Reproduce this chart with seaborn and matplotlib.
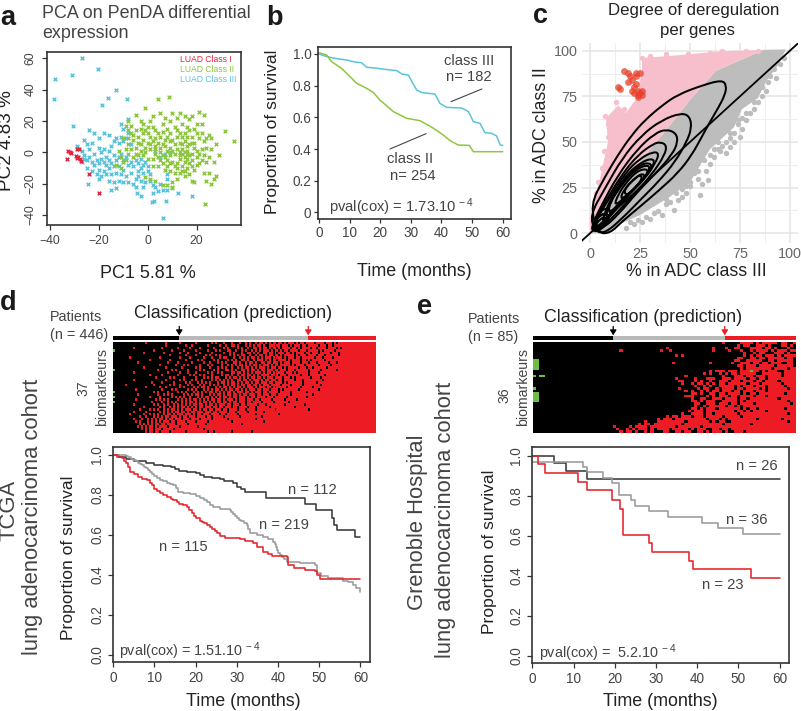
import matplotlib
matplotlib.use("Agg")
import matplotlib.pyplot as plt
from matplotlib.colors import ListedColormap
from matplotlib.path import Path
from matplotlib.patches import PathPatch
import numpy as np
import seaborn as sns

sns.set_theme(style="white")
plt.rcParams['font.family'] = ['Liberation Sans', 'DejaVu Sans']
plt.rcParams['mathtext.default'] = 'regular'
plt.rcParams['axes.unicode_minus'] = True

W, H = 801, 711
DARK, MID = "#222222", "#444444"
RED, GREEN, BLUE = "#e3263f", "#8dc63f", "#5bc4dc"

# ---------- panel a ----------
pca_red = [(-32.5,1),(-31.3,-.6),(-29,2.3),(-28,2.3),(-33,-4.5),(-29.4,-2.3),(-28.5,-2.8),(-27.7,-4.5),(-27.5,-5.5),(-24,-14),(-20,-25.7),(-31.8,0),(-28.8,-3.4)]
pca_green = [(-8,20),(-9,17),(-8,14),(-7,12),(-5,24),(-3,20),(-2,18),(-1,14),(-2,12),(1,20),(2,16),(3,14),(5,25),(7,22),(6,18),(8,15),(9,12),(10,25),(12,22),(13,25),(15,23),(14,18),(17,21),(18,23),(20,18),(21,26),(23,24),(22,18),(19,15),(17,14),(16,10),(13,12),(11,16),(10,8),(7,8),(5,10),(4,6),(3,9),(1,10),(0,6),(-2,8),(-4,6),(-6,8),(-8,5),(-10,9),(-9,2),(-7,2),(-5,3),(-3,1),(-1,3),(1,2),(3,2),(5,3),(7,4),(9,3),(11,5),(13,6),(15,7),(17,5),(19,6),(21,9),(23,7),(25,11),(26,9),(24,3),(26,2),(28,5),(29,-2),(27,-6),(25,-3),(23,-2),(22,-5),(20,-3),(18,-1),(16,1),(14,2),(14,-1),(15,-3),(13,-4),(11,-1),(9,-2),(8,-5),(6,-2),(4,-3),(2,-4),(0,-4),(-2,-2),(-4,-2),(-6,-3),(-8,-1),(-11,-3),(-13,-8),(-11,-10),(-10,-6),(16,-4),(17,-7),(18,-9),(20,-8),(19,-11),(16,-10),(14,-9),(12,-7),(10,-6),(8,-9),(6,-7),(13,-13),(11,-13),(9,-12),(7,-11),(4,-9),(2,-9),(15,-15),(17,-14),(18,-18),(19,-19),(23,-13),(25,-13),(24,-18),(26,-20),(28,-15),(27,-17),(14,-12),(12,-17),(10,-19),(8,-21),(6,-21),(3,-18),(1,-17),(-1,-16),(10,-23),(10,-22),(31.6,13.6),(35.4,7.4),(23.4,-33),(4,34),(8.5,35.5),(-1,28),(-12,1),(-9,-5),(12,10),(15,12),(18,10),(3,4),(6,13),(-5,14),(-4,10),(0,16),(15,0),(19,3),(21,-1),(22,2),(9,7),(-8,9),(5,-5),
 (12,2),(13,0),(14,5),(16,4),(15,-6),(16,-1),(13,-2),(12,-10),(10,1),(8,1),(6,5),(2,7),(0,12),(4,12),(8,10),(12,14),(20,12),(24,9),(22,12),(18,6),(20,1),(18,-5),(15,-12),(11,-9),(9,-7),(7,-3),(5,0),(3,-1),(-1,0),(-3,5),(-6,11),(-7,17),(-3,15),(2,23),(9,20),(16,16),(14,10),(17,-2),(21,-7),(24,-6),(-5,-1),(1,5)]
pca_blue = [(-26,8),(-24,14),(-22,12),(-25,5),(-23,6),(-24,2),(-26,-2),(-24,-3),(-22,-1),(-23,-6),(-25,-5),(-22,-8),(-21,-5),(-20,-7),(-19,-4),(-18,-6),(-17,-8),(-16,-5),(-15,-7),(-17,-3),(-20,3),(-19,0),(-18,2),(-16,1),(-15,4),(-20,9),(-18,12),(-16,11),(-13,9),(-14,7),(-12,6),(-11,10),(-10,7),(-14,-2),(-12,-3),(-11,-1),(-10,-5),(-9,-3),(-13,-5),(-14,-9),(-12,-9),(-10,-11),(-16,-10),(-18,-12),(-19,-15),(-17,-14),(-15,-14),(-13,-13),(-11,-14),(-9,-15),(-7,-13),(-23,-12),(-21,-14),(-25,-10),(-20,-17),(-16,-18),(-14,-19),(-15,-24),(-13,-23),(-12,-18),(-10,-19),(-8,-19),(-6,-20),(-5,-17),(-4,-15),(-3,-18),(-5,-22),(-2,-22),(-4,-12),(-3,-10),(-2,-8),(-4,-7),(-5,-5),(-3,-4),(-1,-6),(0,-9),(0,-12),(1,-14),(1,-18),(2,-21),(3,-22),(5,-20),(6,-24),(8,-17),(8,-14),(4,-25),(2,-26),(8,-24),(-6,-9),(-7,-6),(-8,-8),(-2,-13),(-1,-19),(-27,-6),(-29,4),(-20,-11),(5,-3),(7,-1),(9,0),(3,1),(-7,5),(-8,12),(-9,9),(-10,15),(-11,18),(-8,21),(-26,-4),(-27,1),(-26.8,60.3),(-20.6,53.3),(-38,47),(-31,49.5),(-38.4,34.2),(-13.1,39.5),(-16.3,34.8),(-8.6,33.8),(-18.7,30),(-30.7,16.6),(6.3,-42.2),(18,-28),(12.2,-26),(7.4,-31),(2.6,-31),(1.6,-31.4),(-4.5,-26),(-2.9,-28),(-24.3,-20.4)]
pca_legend = ["LUAD Class I", "LUAD Class II", "LUAD Class III"]

# ---------- panel b ----------
b_t_blue = [0,1.5,3.6,6,9,11.8,13.9,15.6,18,21.6,25.4,27,29.2,30.5,31.9,33.6,37.9,39.5,41.7,46.6,48.8,50.4,52.6,54.2,56.4,58,59.2,60]
b_s_blue = [1.0,.99,.979,.97,.962,.949,.945,.916,.912,.903,.895,.874,.867,.82,.773,.756,.747,.688,.663,.659,.636,.573,.562,.503,.499,.482,.425,.423]
b_t_green = [0,2.5,4.1,7.4,10,12.3,15.6,17.8,19.9,22,24.3,28.6,33,37.4,40.6,42.8,45.5,49.1,50.4,60]
b_s_green = [1.008,.994,.952,.909,.86,.815,.783,.756,.709,.675,.636,.594,.579,.531,.488,.453,.425,.423,.383,.383]

# ---------- panel c ----------
pink_x = [0,1.7,5,9,8,14,18,24,26,26,45,63,87,63,50,37,20,3,0]
pink_y = [8,16.4,30,50,63,70,66,75,90,96,97.6,99.5,100.5,89,73,55,33,9,0]
gray_x = [0,3,20,37,50,63,87,98,94,88,84,76,72,66,60,50,40,25,15,8,0]
gray_y = [0,9,33,55,73,89,100.5,100.7,92,83,74,68,58,52,46,28,20,10,5,0,0]
pink_pts = [(9,52.5),(10,49),(7,45),(8,40),(6,36),(4,28),(3,22),(11,62),(7.5,64),(9,60),(14,67),(13,72),(12,66),(17,68),(20,64),(22,70),(25,78),(27,93),(26,96),(30,97),(33,94),(38,98),(42,96),(49,98),(55,97),(60,99),(66,100),(72,99),(78,100),(84,100),(28,88),(27,84),(26,72),(16,62),(15,58),(11,56)]
gray_pts = [(97,96),(95,93),(92,90),(93,85),(89,83),(88,78),(86,75),(84,72),(82,68),(78,66),(74,62),(76,57),(75,53),(72,50),(70,47),(68,44),(65,45),(62,42),(60,38),(59,29),(55,21),(56,27),(52,33),(50,28),(46,24),(42,13),(44,18),(38,16),(36,10),(30,8),(26,6),(22,5),(18,3),(45,30),(64,50),(70,55),(78,62),(58,34),(48,22),(34,12),
 (90,86),(86,80),(82,72),(80,66),(74,60),(72,55),(68,50),(64,46),(60,43),(57,40),(54,34),(50,26),(46,20),(40,17),(32,11),(28,9),(24,7),(20,6),(66,48),(62,46),(54,30),(48,26),(43,22),(38,19),(70,52),(76,63)]
red_pts = [(14,80),(15,79),(17,89),(19,88),(19,83),(21,84),(22,80),(23,86),(23,88),(24,78),(24,76),(22,77),(25,77),(26,76),(23,82),(21,78),(20,86),(25,88),(24,74.5),(26,78)]
contours = [
 [(0,15.5),(7.5,31),(14,43),(21,54),(27.5,62),(36,70),(44,76),(56,81),(66,84),(68.3,81),(67.5,75.7),(64,68.4),(60,61),(56,53),(51,43),(44,33),(34,23),(24,13.7),(16,6.4),(10,0),(4,0)],
 [(0,10),(7.5,24.6),(16,41),(25.8,53.8),(35.8,62),(45.8,66),(50,63.9),(50.8,57.5),(48.3,50),(42.5,39),(34,28),(25.8,19),(16,8),(7.5,0),(2.5,1)],
 [(1,4.5),(5.8,15.5),(14,32),(24,46.5),(32.5,54.7),(38,57),(43,55),(44,50),(41,43),(33,33),(24,23),(14,10),(5.8,2)],
 [(1.7,6.4),(7.5,17),(15.8,32),(24,43),(31.7,49),(35,50),(38.3,48.4),(37.5,43),(30.8,32),(22.5,22),(12.5,10),(5,2)],
 [(2.5,6.4),(9,18),(17.5,33),(25,41),(31.7,44.7),(34.5,43.8),(33,39),(27.5,30),(19,21),(10.8,10),(4,2.7)],
 [(5.8,4.5),(7.5,12),(12.5,23),(19,33),(25.8,39),(30.8,41),(32.5,39),(29,32),(21,23),(13,13.7)],
 [(8,8),(9,15),(14,24),(20,33),(26,38),(30,38.5),(31,36),(27,30),(20,22),(13,14)],
 [(9,10),(10,17),(15.8,26.5),(22.5,34.7),(29,37.8),(30,34.7),(24,26.5),(15.8,18)],
 [(12,15),(14,21),(17.5,27),(23.3,34),(28.5,35.5),(29,32.5),(23,25),(17,19)],
 [(15,18),(16.7,23.7),(22.5,30.5),(26.7,33),(27.5,30),(20.8,23)],
 [(17,22),(18.3,25.5),(22.5,30),(25,32),(26.2,30.5),(24,26.5),(19,21)],
 [(1,2),(3,8),(7,11),(9,9),(5,3)],
 [(2,3),(5,8),(8,9),(7,6),(4,2)],
 [(0.5,3),(4,11),(8,14),(11,12),(7,4),(3,0.5)],
 [(0.5,1),(2,6),(5,10),(8,11),(10,8),(6,2)],
]
c_diag = [-10, 110]

# ---------- panel d ----------
d_counts = [112, 219, 115]
d_t_black = [0,1.5,3,5,8,10,12,14,15,16,18,20,21,22,24,26,27,29,30,31,32,37.2,46.6,49.2,53,53.7,54.3,58.7,60]
d_s_black = [1,.99,.98,.97,.96,.95,.945,.94,.93,.92,.915,.91,.90,.89,.885,.88,.87,.86,.84,.83,.817,.783,.755,.725,.683,.65,.625,.592,.592]
d_t_gray = [0,2.4,3,3.5,4.2,4.9,5.5,6,6.5,7,7.5,8,8.5,9,9.5,10,10.6,11.3,12,13,13.8,14.6,15.2,15.8,17,18.6,20,21,22,22.7,23.5,24.3,26,28.3,28.7,29,29.5,30,30.5,31,31.7,32.4,32.8,33.2,35,36.4,37.5,38.9,39.2,39.5,39.8,40.1,40.5,41,41.5,42.1,45.3,49,49.4,50.5,52.2,55.9,57,58.3,59,59.9,60]
d_s_gray = [1,1,.995,.99,.982,.975,.968,.96,.954,.948,.94,.933,.925,.915,.905,.895,.885,.875,.868,.86,.855,.85,.835,.817,.812,.805,.795,.783,.775,.767,.752,.738,.73,.725,.715,.705,.695,.683,.675,.668,.66,.65,.63,.608,.6,.592,.58,.567,.555,.54,.525,.512,.5,.49,.478,.467,.458,.45,.408,.395,.383,.372,.365,.35,.335,.312,.312]
d_t_red = [0,1,2,2.5,3,3.5,4,5,6,7,8.1,8.8,9.5,10,10.7,11.3,12,13,14,14.6,15.5,16,17,17.8,18.5,19,19.6,20.2,21,21.5,22,22.7,23.5,24,24.6,25.1,26,27.1,30.8,32,34,35,36.4,37.5,38.5,42.1,42.5,44,46.6,49,49.4,50.2,60]
d_s_red = [1,.992,.983,.972,.96,.94,.917,.905,.89,.882,.875,.86,.85,.83,.82,.808,.798,.79,.782,.775,.765,.755,.748,.742,.725,.71,.697,.683,.672,.665,.658,.65,.64,.63,.618,.608,.595,.583,.58,.57,.558,.54,.517,.505,.495,.492,.45,.437,.425,.422,.40,.378,.378]

# ---------- panel e ----------
e_counts = [26, 36, 23]
e_t_black = [0,5.3,8.1,13.2,60]
e_s_black = [1,.963,.923,.883,.883]
e_t_gray = [0,12.2,13.2,17.2,19.3,21.1,24,24.9,28.2,33,41.1,45,51,60]
e_s_gray = [.97,.943,.918,.888,.863,.805,.777,.747,.722,.693,.663,.637,.608,.608]
e_t_red = [0,1.3,3.2,11.2,13.2,19.3,21.3,22.1,28.2,29,38,39,53,60]
e_s_red = [1,.958,.913,.867,.827,.78,.735,.605,.563,.518,.475,.433,.388,.388]

km_xticks = [0,10,20,30,40,50,60]
km_yticks = [0,.2,.4,.6,.8,1.0]
km_ylabels = ["0.0","0.2","0.4","0.6","0.8","1.0"]

# heat-map rows: '.' black, 'r' red, 'g' green; short rows continue red
d_rows = [
"................r.........r......r.......r.......r.r...r...r...r..r.r..r.rr.r.r.rr.rr.r.rrr.r.rr.rrrr.rrrr.rrr.r.rrr",
"..........................r.........r..r.......r.....r..r..rr.r...r.r.r.rr.r..rrr.rr.rrr.r.rrr.rr.rrrrr.rrr.rr.rrrrr",
"..........r.............r.......r.....r....r......r....r.r....r.r..r..rr.r.rr.r.rr.r.rrrr.rr.r.rrrr.rr.rrrr.rrrr.r.r",
"g...................r........r.....r.....r.....r...r.r...rr..r..r.r..r.r.r.rrr.r.rr.r.rr.rrrr.rrr.rrrrr.r.rrrrr.rrrr",
"...............r.........r.......r...r.....r.....r.....r..r.r...r..rr.r.r..rr.rr.r.rrr.rr.r.rrrr.rr.rrr.rrrrr.rrr.rr",
"............................r.......r....r....r.r..r.r....r.r.r.rr..r..r.rr.r.rr.rr.r.rrrrr.r.rrr.rrrr.rrr.rrrrrr.rr",
"........r..............r.........r....r......r...r...r.rr...r..r.r.r.rr.r.r.rrr.r.rrr.r.rrr.rr.rrrrrr.rrr.rrrr.rrrrr",
"..................r.........r.......r.....r.r.....r.r....r.r.r..rr.r..r.rrr.r.r.rr.rrrr.r.rrrr.rr.r.rrrrrr.rrrrrrrrr",
"............r..............r....r......r.....r..r...r.r.r...rr.r..r.rr.r..rr.rr.rrr.r.rrr.rrrr.rrr.rrr.rrrrr.rrr.rrr",
".......................r.......r...r.r.....r...r.r....r..r.r.r.rr.r.r.rr.r.rrr.r.rr.rrrrr.r.rrrr.rrrrrr.rrrrr.rrrrr",
"...............r..........r.......r......r.r....r...r.r.r..r..r.r.rr.r.r.rrr.r.rrr.rr.r.rrrrr.rrr.rr.rrrrrr.rrrrrrr",
"g.....................r......r.r.....r.....r.r....r.r...rr.r.r..rr.r.rr.r.rr.rrr.rr.rrr.rrr.rrrrrr.rrrrr.rrrrrrr.rrr",
"..........r................r.....r...r...r.....r.r..r.r....rr.rr.r.r.r.rrr.r.rr.r.rrrr.rrr.r.rrrrr.rrrr.rrrrrrrrrrrr",
"..................r.....r.......r.....r.r..r.r...r....r.rr.r..r.rr.rr.r.r.rrrr.rr.r.rrr.rrrrrr.rrr.rrrrrrr.rrrrrrrr",
".....................r......r.r....r.....r...r.r.r.rr...r.r.rr.r.r.r.rr.rr.r.rrr.rrrr.rrr.r.rrrrrrr.rrrr.rrrrrrrrrr",
"..........r...............r......r.r...r.r..r....r.r.r.r.r.r..rr.rr.r.rrr.r.rr.rrr.rr.rrrrr.rrr.rrrrrrrrr.rrrrrrrrr",
"...................r....r.....r.....r.r...r.r.r.r...r.rr.r.rr.r.r.rr.r.rr.rrr.rr.rrrr.r.rrrrrrr.rrrrrr.rrrrrrrrrrrr",
"......r.............r.......r.r..r...r.r...r.r..r.r.r..r.r.rr.r.rr.rr.rr.r.rrr.rrrrr.rrrr.rrrrr.rrrrrrrr.rrrrrrrrrr",
"................r......r..r......r.r....r.r.rr.r...r.r.rr.r.r.rr.r.rrr.r.rrr.rr.r.rrrrr.rrrrrr.rrrrr.rrrrrrrrrrrrrr",
"...........r............r....r.r.....r.r.r...r.r.r.rr.r.r.rr.rr.r.r.rrr.rr.rrr.rrrr.r.rrrrrrr.rrrrrrrrr.rrrrrrrrrrr",
"g...................r.r....r....r.r.r...r.r.r.r.rr.r.r.r.rr.r.rrr.rr.r.rrr.rr.rrrrr.rrrrr.rrrrrrr.rrrrrrrrrrrrrrrrr",
"............r.........r..r.r.r.....r.r.r.rr.r...r.r.rr.r.rr.rr.r.rr.rrr.rr.rrr.rrr.rrrrrr.rrrrrrrrrr.rrrrrrrrrrrrrr",
"g.................r....r.....r.r.r.r..r...r.r.rr.r.r.r.rr.r.rr.rrr.r.rr.rrrr.rrr.rrrrrr.rrrrrrrrr.rrrrrrrrrrrrrrrrr",
"...........r.........r.r.r.r....r.r.r.r.rr.r.r.r.rr.rr.r.rrr.r.rrr.rrr.rr.rrrrr.rrrrrr.rrrrr.rrrrrrrrrrrrrrrrrrrrrr",
"g..................r....r..r.r.r..r.r.rr.r.r.rr.r.r.rr.rr.r.rr.rrr.rr.rrrr.rrrrr.rrrrrrr.rrrrrrrrrrrrrrrrrrrrrrrrrr",
"..........r.........r.r..r.r..r.r.r.r.r.rr.rr.r.rr.r.rrr.rr.rrr.rr.rrrrr.rrr.rrrrrrrrr.rrrrrrrrr.rrrrrrrrrrrrrrrrr",
"...............r.......r.r..r.r.r.rr.r.r.r.rr.rrr.rr.rr.rrr.rr.rrrr.rrr.rrrrrr.rrrrrrrrrrrr.rrrrrrrrrrrrrrrrrrrrrr",
".............r....r.r.r..r.r.rr.r.r.rrr.rr.r.rr.rr.rrr.rr.rrrr.rrr.rrrr.rrrrrrrrr.rrrrrrrrrrrrrrrr.rrrrrrrrrrrrrrr",
"..........r.....r......r.r.r.r.rr.rr.r.rr.rrr.rrr.rr.rrrr.rrr.rrrrr.rrrrrrr.rrrrrrrrrrrrrrrrrrrrrrrrrrrrrrrrrrrrrr",
"........r......r..r.r.r..r.rr.r.rrr.rrr.r.rr.rrr.rrrr.rr.rrrrr.rrrrrrrr.rrrrrrrrrrr.rrrrrrrrrrrrrrrrrrrrrrrrrrrrrr",
".............r..r...r.r.r.rr.rrr.r.rr.rrr.rrrr.rr.rrrrr.rrrrrrr.rrrrrrrrrr.rrrrrrrrrrrrrrrrrrrrrrrrrrrrrrrrrrrrrrr",
"..........r...r..r.r.r.rr.r.rr.rrr.rrr.rrrr.rrrrr.rrrrrrr.rrrrrrrrrrrrr.rrrrrrrrrrrrrrrrrrrrrrrrrrrrrrrrrrrrrrrrrr",
"...........r.r...r.r.r.r.rrr.rr.rrrr.rrrr.rrrrr.rrrrrrrrrrr.rrrrrrrrrrrrrrr.rrrrrrrrrrrrrrrrrrrrrrrrrrrrrrrrrrrrrr",
".............r.r.r.r.rr.rr.rrrr.rrrrr.rrrrrrrr.rrrrrrrrrrrrrrrrr.rrrrrrrrrrrrrrrrrrrrrrrrrrrrrrrrrrrrrrrrrrrrrrrrr",
"............r.r.r.rr.r.rrrr.rrrrr.rrrrrrrr.rrrrrrrrrrrrrrrrrrrrrrrrrrrrrrrrrrrrrrrrrrrrrrrrrrrrrrrrrrrrrrrrrrrrrrr",
"..............r.r.rr.rrr.rrrrr.rrrrrrrrrrrrrr.rrrrrrrrrrrrrrrrrrrrrrrrrrrrrrrrrrrrrrrrrrrrrrrrrrrrrrrrrrrrrrrrrrrr",
"................r.rr.rr.rrrr.rrrrrrr.rrrrrrrrrr.rr.rrrrrrrr.rrrrrrrrr.rrrrrrrrrrrrrrrrrrrrrrrrrrrrrrrrrrrrrrrrrrrr",
]
e_head = {7:"gg",8:"gg",9:"gg",10:"gg",13:"g.gg",18:"g",20:"gg",21:"gg",22:"gg",23:"gg"}
e_tails = [
"....................................r.....rrrr.r.rrrrr.rr..r",
".........................................r.rr..rrr.r...rr.r.",
"..................r..............r...r..rr...rrrr.rr.r...r...",
"...r............r..r.............r....r...r..r.rrrr.r.rrr.rr",
"...........................................r..r.rr...rrr.r..r",
".....................r.r...................r.r.rr.rrr.r.rrrr.",
".........................................rr..rr.rr.rrrrr.rr.r",
"........................................rr..rrrrr..rr.rrrrr.r",
"....................r...........r......r..rrr.rr.rr.rrr..rr.r",
".........................................rr.rrr.rrrrr.rrrrr..",
"..........................................r.rrrrrrrr.rrrr.rrr",
"................................r.rrr.rrr.rrrgrr.r.rrr..rrrrr",
"..............................r.r..r.r.rr.rrrrr..rrrrrr.rrrrr",
"........................r...........r...rrr.rr.rrr.rrrr.rrrrr",
".....................r.....r...rrr..rrr.rrrr.rr.rr.rrrrrrrrrr",
"......................rr...r.r..r..rrr.rrr.rrr.rr.rrrr.rrrrrr",
".......................r..r.rr.r.r.rr.rrrrrr.rrr.rrrrrr.rrrrr",
"...........................r..r.r..rrrrr.r.rrr.rrr.rrrrr.rrrr",
"......................r.....r.rr..r.rrrr.rr.rrrr.r.rrrrrr.rrr",
"........................r.r..r.r.rr.rrr.rr.rrr.rrr.rrrrrrrrrr",
"..........................rr.r..rr.rr.rrrr.r.rr.rrrrrrrr.rrrr",
"........................rrr....r.r.rrr.rr.rrrr.rrr.rrrrrrrrrr",
"..........................r..rr..rrr.rrrr.rr.rrrrrrrrr.rrrrrr",
"..........................rr.r.rrr..rrrrr.r.rrrrrrrrrrrrr.rrr",
"...........................rr..rrr.rrr.rr.rrrr.rrrrrrrrrrr.rr",
"...........................r..r.rrrrr.rr.r.rrrrrrrrrrrrrrrrrr",
"..........................rr.r.rrr.rrrrrrr.r.rr.rrrrrrrr.rrrr",
".........................r.rrr.rrrrrrrrr.rr.r.rrrr.rrrrrrrrrr",
".......................r..rrrr.rr.rrrrrrr.rrrrrrrrrrrrrrr.rrr",
"..................r.rr.rrr.rrr.rrrrr.rrrrr.rrrrrrrrrrrrrrrrrr",
"...............r.rrr.rrrrrrrrrr.rrr.r.rrrrrrrrr.rrrrrrr.rrrrrr",
"...........r...rrrrrrrrr.rrrrrrr.r.rr..rrrrrrrrrrrrrrrrrr.rrrr",
".........r.rr.rrrrrrrrr.rrrrrrrrrrrr.rrrrrrrr.rrrrrrrrrrrrrrrr",
".r....r.rrrr.rrrrrrrr.rrrrrrr.rrrrrrrrrrrrrrrrrrrrrrrrrrrrrrrr",
"..r..r.r.rrr.r.rrrr.rrrrr.r.rrr..rr.rr.rrrrrrrrrrrrrrrrrrrrrr",
"...r.rr.r..r.r...rr..rr.rr..rr.r.rrr.r..rrr.rrrrrrrrrrrrrrrrr",
]

CODE = {'.': 0, 'r': 1, 'g': 2}
CMAP = ListedColormap(["#000000", "#ed1c24", "#6cbe45"])


def rows_to_matrix(rows, n):
    return np.array([[CODE[c] for c in r.ljust(n, 'r')[:n]] for r in rows])


fig = plt.figure(figsize=(W/100, H/100), dpi=100, facecolor="white")


def ax_px(l, t, r, b):
    return fig.add_axes([l/W, 1-b/H, (r-l)/W, (b-t)/H])


def txt(x, y, s, size=12.9, color=DARK, ha="center", va="center", **kw):
    return fig.text(x/W, 1-y/H, s, fontsize=size, color=color, ha=ha, va=va, **kw)


def box(ax, lw=1.2):
    for sp in ax.spines.values():
        sp.set_visible(True)
        sp.set_color("#333333")
        sp.set_linewidth(lw)


def unzip(points):
    a = np.array(points)
    return a[:, 0], a[:, 1]


def km(ax, t, s, color, lw=1.1, steps=True):
    kw = dict(drawstyle="steps-post") if steps else {}
    sns.lineplot(x=t, y=s, color=color, lw=lw, estimator=None, sort=False, errorbar=None, ax=ax, **kw)


# ---- a
ax = ax_px(46.7, 51.7, 240.7, 224.7)
for pts, col in ((pca_blue, BLUE), (pca_green, GREEN), (pca_red, RED)):
    x, y = unzip(pts)
    sns.scatterplot(x=x, y=y, marker="x", color=col, s=7, linewidth=1.05, ax=ax)
ax.set(xlim=(-41.4, 38), ylim=(-46.2, 64.2), xlabel="", ylabel="")
ax.set_xticks([-40, -20, 0, 20], ["\u221240", "\u221220", "0", "20"])
ax.set_yticks([-40, -20, 0, 20, 40, 60], ["\u221240", "\u221220", "0", "20", "40", "60"], rotation=90, va="center")
ax.tick_params(length=3.5, width=.9, color="#333333", labelsize=8.8, labelcolor=MID, bottom=True, left=True, pad=4)
box(ax)
for i, (lab, col) in enumerate(zip(pca_legend, (RED, GREEN, BLUE))):
    txt(180, 59+10*i, lab, 6.2, col, ha="left")
txt(42, 14, "PCA on PenDA differential", 12.9, MID, ha="left")
txt(42, 34, "expression", 12.9, MID, ha="left")
txt(148, 273, "PC1 5.81 %", 13)
txt(7, 141, "PC2 4.83 %", 13.6, rotation=90)

# ---- b
ax = ax_px(318.3, 46.7, 510.7, 219)
km(ax, b_t_blue, b_s_blue, BLUE, 1.1, steps=False)
km(ax, b_t_green, b_s_green, GREEN, 1.1, steps=False)
ax.set(xlim=(-.2, 62.6), ylim=(-.042, 1.046), xlabel="", ylabel="")
ax.set_xticks(km_xticks)
ax.set_yticks(km_yticks, ["0", "0.2", "0.4", "0.6", "0.8", "1.0"])
ax.tick_params(length=3, width=.9, color="#333333", labelsize=9.8, labelcolor=MID, bottom=True, left=True, pad=2)
box(ax)
sns.lineplot(x=[43.1, 53.2], y=[.699, .779], color="#444444", lw=.8, estimator=None, sort=False, errorbar=None, ax=ax)
sns.lineplot(x=[23.2, 35], y=[.40, .497], color="#444444", lw=.8, estimator=None, sort=False, errorbar=None, ax=ax)
for t_, s_, lab in ((49.1, .956, "class III"), (49, .853, "n= 182"), (29.7, .339, "class II"), (30.5, .232, "n= 254")):
    ax.text(t_, s_, lab, fontsize=10.6, color=MID, ha="center", va="center")
ax.text(3.4, .03, "pval(cox) = 1.73.10$^{\\,-4}$", fontsize=10.6, color=MID, va="center")
txt(414, 272, "Time (months)")
txt(272, 132, "Proportion of survival", 12.6, rotation=90)

# ---- c
ax = ax_px(581.7, 42.7, 798.3, 243.3)
ax.set_axisbelow(True)
ax.fill(gray_x, gray_y, color="#bdbdbd", lw=0, zorder=2)
ax.fill(pink_x, pink_y, color="#f7bfcc", lw=0, zorder=2)
x, y = unzip(gray_pts)
sns.scatterplot(x=x, y=y, color="#bdbdbd", s=15, linewidth=0, zorder=2, ax=ax)
x, y = unzip(pink_pts)
sns.scatterplot(x=x, y=y, color="#f7bfcc", s=15, linewidth=0, zorder=2, ax=ax)
x, y = unzip(red_pts)
sns.scatterplot(x=x, y=y, color="#e8402a", s=24, alpha=.75, linewidth=0, zorder=3, ax=ax)
for c in contours:
    p = np.array(c)
    mid = (p + np.roll(p, -1, axis=0)) / 2
    verts = [mid[-1]]
    codes = [Path.MOVETO]
    for i in range(len(p)):
        verts += [p[i], mid[i]]
        codes += [Path.CURVE3, Path.CURVE3]
    ax.add_patch(PathPatch(Path(verts, codes), fc="none", ec="black", lw=1.45, zorder=4))
sns.lineplot(x=c_diag, y=c_diag, color="black", lw=1.3, estimator=None, sort=False, errorbar=None, zorder=5, ax=ax)
ax.set(xlim=(-4.17, 104.2), ylim=(-5.5, 104.4), xlabel="", ylabel="")
ax.set_xticks([0, 25, 50, 75, 100])
ax.set_yticks([0, 25, 50, 75, 100])
ax.set_xticks([12.5, 37.5, 62.5, 87.5], minor=True)
ax.set_yticks([12.5, 37.5, 62.5, 87.5], minor=True)
ax.grid(True, which="major", color="#e6e6e6", lw=1.2)
ax.grid(True, which="minor", color="#eeeeee", lw=.7)
ax.tick_params(which="both", length=0, labelsize=10.4, labelcolor="#666666", pad=3)
for sp in ax.spines.values():
    sp.set_visible(False)
txt(694, 11, "Degree of deregulation", 12.1)
txt(697, 31, "per genes", 12.1)
txt(696, 272, "% in ADC class III", 12.8)
txt(541, 135, "% in ADC class II", 12.8, rotation=90)

# ---- d / e heat maps
for (l, r, rows_, n, counts, head, pts_x, pat_y, pat_n, cl_x, cl_y, num, num_x, num_y, bio_x) in (
    (113.3, 376, d_rows, 132, d_counts, {}, 50, 317, "(n = 446)", 233, 313, "37", 84, 388, 102),
    (532.7, 796, None, 85, e_counts, e_head, 468, 319, "(n = 85)", 643, 317, "36", 505, 395, 523),
):
    if rows_ is None:
        rows_ = []
        for i, tail in enumerate(e_tails):
            rows_.append(head.get(i, "").ljust(25, ".") + tail)
    ax = ax_px(l, 341.7, r, 432.7)
    sns.heatmap(rows_to_matrix(rows_, n), cmap=CMAP, vmin=0, vmax=2, cbar=False,
                xticklabels=False, yticklabels=False, ax=ax)
    bar = ax_px(l, 335.5, r, 340.3)
    left = 0
    for cnt, col in zip(counts, ("black", "#b9b9b9", "#ed1c24")):
        bar.barh(0, cnt, left=left, height=1, color=col, lw=0)
        left += cnt
    bar.set(xlim=(0, sum(counts)), ylim=(-.5, .5), xticks=[], yticks=[])
    for sp in bar.spines.values():
        sp.set_visible(False)
    for cum, col in ((counts[0], "black"), (counts[0]+counts[1], "#ed1c24")):
        bar.annotate("", xy=(cum, .55), xytext=(cum, 2.4), annotation_clip=False,
                     arrowprops=dict(arrowstyle="-|>,head_width=.16,head_length=.25", color=col, lw=.9, shrinkA=0, shrinkB=0))
    txt(pts_x, pat_y, "Patients", 10.4, MID, ha="left")
    txt(pts_x, pat_y+18, pat_n, 10.4, MID, ha="left")
    txt(cl_x, cl_y, "Classification (prediction)", 12.8)
    txt(num_x, num_y, num, 10.2, MID, rotation=90)
    txt(bio_x, 387, "biomarkeurs", 10.2, MID, rotation=90)

# ---- d / e survival
for (l, t, r, b, curves, labs, pv, pv_xy, xl, yl, tx) in (
    (113.3, 446.7, 370, 662,
     ((d_t_black, d_s_black, "#3a3a3a"), (d_t_gray, d_s_gray, "#9a9a9a"), (d_t_red, d_s_red, "#e3242b")),
     ((48.4, .825, "n = 112"), (41.5, .65, "n = 219"), (17, .542, "n = 115")),
     "pval(cox) = 1.51.10$^{\\,-4}$", (1.5, .02), (243, 701), (69, 558), 92),
    (532.3, 447.3, 789.3, 663.3,
     ((e_t_black, e_s_black, "#3a3a3a"), (e_t_gray, e_s_gray, "#9a9a9a"), (e_t_red, e_s_red, "#e3242b")),
     ((54.5, .95, "n = 26"), (52, .68, "n = 36"), (46.2, .355, "n = 23")),
     "pval(cox) =  5.2.10$^{\\,-4}$", (1.6, .013), (660, 701), (489, 552), 511),
):
    ax = ax_px(l, t, r, b)
    for tt, ss, col in curves:
        km(ax, tt, ss, col, 1.15)
    ax.set(xlim=(0, 62.35), ylim=(-.036, 1.042), xlabel="", ylabel="")
    ax.set_xticks(km_xticks)
    ax.set_yticks(km_yticks, km_ylabels, rotation=90, va="center")
    ax.tick_params(length=3.5, width=.9, color="#333333", labelsize=9.8, labelcolor=MID, bottom=True, left=True, pad=3)
    box(ax)
    for tx_, sy, lab in labs:
        ax.text(tx_, sy, lab, fontsize=10.6, color=MID, ha="center", va="center")
    ax.text(pv_xy[0], pv_xy[1], pv, fontsize=10.4, color=MID, va="center")
    txt(xl[0], xl[1], "Time (months)")
    txt(yl[0], yl[1], "Proportion of survival", 12.6, rotation=90)

txt(9, 510, "TCGA", 15.8, MID, rotation=90)
txt(33, 517, "lung adenocarcinoma cohort", 15.8, MID, rotation=90)
txt(417, 522, "Grenoble Hospital", 15.8, MID, rotation=90)
txt(445, 520, "lung adenocarcinoma cohort", 15.8, MID, rotation=90)

for x_, y_, s_ in ((0, 25, "a"), (266, 25, "b"), (533, 23, "c"), (0, 310, "d"), (417, 314, "e")):
    txt(x_, y_, s_, 19.5, "#1a1a1a", ha="left", va="baseline", fontweight="bold")

fig.savefig("out.png", dpi=100, facecolor="white")
